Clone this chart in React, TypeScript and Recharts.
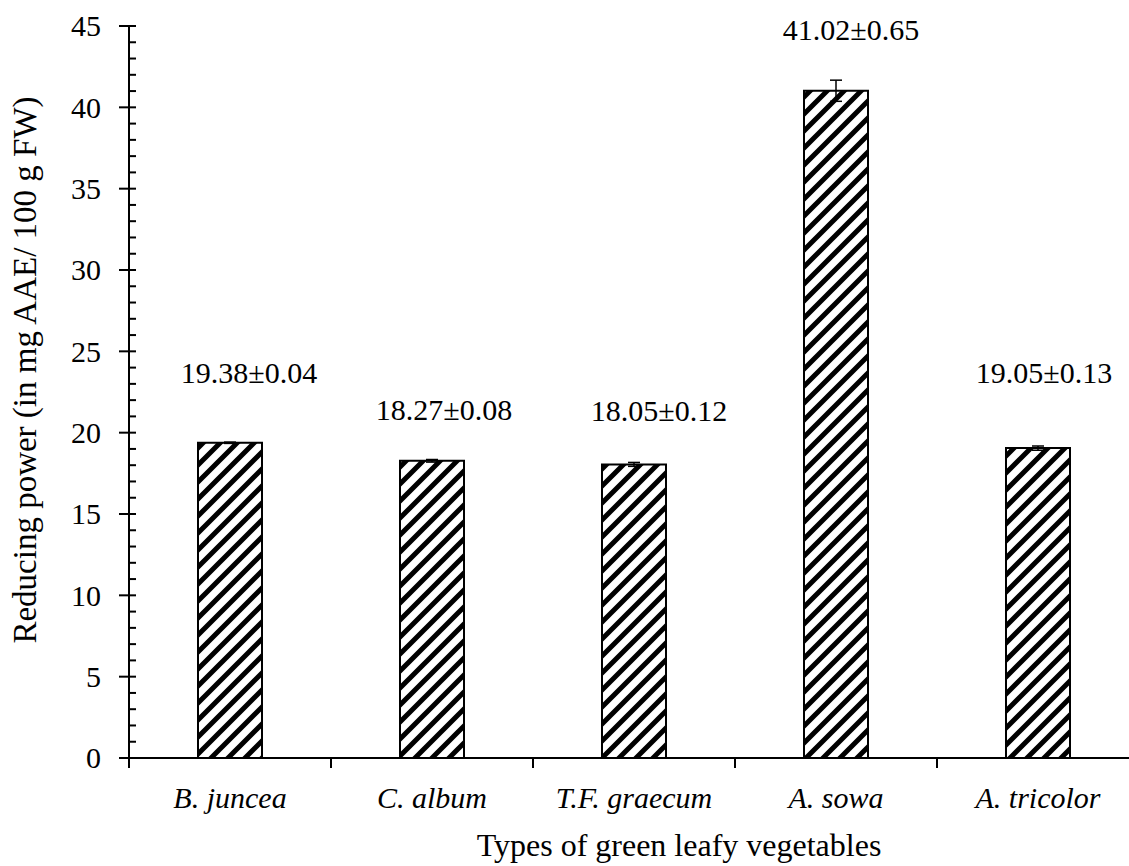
import React from "react";
import { Bar, ComposedChart, ErrorBar, LabelList, XAxis, YAxis } from "recharts";

const categories = ["B. juncea", "C. album", "T.F. graecum", "A. sowa", "A. tricolor"];
const means = [19.38, 18.27, 18.05, 41.02, 19.05];
const sds = [0.04, 0.08, 0.12, 0.65, 0.13];
const yTicks = Array.from({ length: 46 }, (_, i) => i);

// labels were dragged by hand in the original, so they sit off the bar centre
const labelDx = [19, 12, 25, 15, 6];
const labelDy = [-70, -51, -54, -61, -75];

const FONT = '"Liberation Serif", "Times New Roman", serif';
const CHART_W = 1160;
const CHART_H = 866;
const MARGIN = { top: 26, right: 21, left: 0, bottom: 0 };
const Y_AXIS_W = 129;
const X_AXIS_H = 108;
const HALF_BAND = (CHART_W - MARGIN.left - MARGIN.right - Y_AXIS_W) / categories.length / 2;

const data = categories.map((name, i) => ({
  name,
  mean: means[i],
  sd: sds[i],
  label: `${means[i].toFixed(2)}±${sds[i].toFixed(2)}`,
}));

function YTick(props: any) {
  const { x, y, payload } = props;
  const v = payload.value;
  if (v % 5 !== 0) {
    return <line x1={x} x2={x + 7} y1={y} y2={y} stroke="#000" strokeWidth={2} />;
  }
  return (
    <g>
      <line x1={x - 10} x2={x + 7} y1={y} y2={y} stroke="#000" strokeWidth={2} />
      <text x={x - 28} y={y} dy="0.34em" textAnchor="end" fontFamily={FONT} fontSize={30} fill="#000">
        {v}
      </text>
    </g>
  );
}

function XTick(props: any) {
  const { x, y, payload } = props;
  const index = props.index ?? payload.index;
  return (
    <g>
      {index === 0 && (
        <line x1={x - HALF_BAND} x2={x - HALF_BAND} y1={y} y2={y + 10} stroke="#000" strokeWidth={2} />
      )}
      <line x1={x + HALF_BAND} x2={x + HALF_BAND} y1={y} y2={y + 10} stroke="#000" strokeWidth={2} />
      <text x={x} y={y + 50} textAnchor="middle" fontFamily={FONT} fontStyle="italic" fontSize={30} fill="#000">
        {payload.value}
      </text>
    </g>
  );
}

function ValueLabel(props: any) {
  const { x, y, width, value, index } = props;
  return (
    <text
      x={x + width / 2 + labelDx[index]}
      y={y + labelDy[index]}
      dy="0.34em"
      textAnchor="middle"
      fontFamily={FONT}
      fontSize={30}
      fill="#000"
    >
      {value}
    </text>
  );
}

export default function App() {
  return (
    <div style={{ position: "absolute", left: 0, top: 0, width: 1129, height: 866, overflow: "hidden", background: "#fff" }}>
      <ComposedChart width={CHART_W} height={CHART_H} data={data} margin={MARGIN}>
        <defs>
          <pattern id="hatch" patternUnits="userSpaceOnUse" width={17} height={17}>
            <rect width={17} height={17} fill="#fff" />
            <path d="M-4,4 L4,-4 M0,17 L17,0 M13,21 L21,13" stroke="#000" strokeWidth={5} />
          </pattern>
        </defs>
        <XAxis
          dataKey="name"
          height={X_AXIS_H}
          tickLine={false}
          tickSize={0}
          tickMargin={0}
          interval={0}
          axisLine={{ stroke: "#000", strokeWidth: 2 }}
          tick={<XTick />}
        />
        <YAxis
          width={Y_AXIS_W}
          domain={[0, 45]}
          ticks={yTicks}
          interval={0}
          tickLine={false}
          tickSize={0}
          tickMargin={0}
          axisLine={{ stroke: "#000", strokeWidth: 2 }}
          tick={<YTick />}
        />
        <Bar dataKey="mean" barSize={64} fill="url(#hatch)" stroke="#000" strokeWidth={2} isAnimationActive={false}>
          <ErrorBar dataKey="sd" width={6} stroke="#000" strokeWidth={1.5} isAnimationActive={false} />
          <LabelList dataKey="label" content={<ValueLabel />} />
        </Bar>
      </ComposedChart>
      <svg width={1129} height={866} style={{ position: "absolute", left: 0, top: 0, pointerEvents: "none" }}>
        <text
          transform="translate(36,370) rotate(-90)"
          textAnchor="middle"
          fontFamily={FONT}
          fontSize={33}
          fill="#000"
        >
          Reducing power (in mg AAE/ 100 g FW)
        </text>
        <text x={679} y={856} textAnchor="middle" fontFamily={FONT} fontSize={32} fill="#000">
          Types of green leafy vegetables
        </text>
      </svg>
    </div>
  );
}
